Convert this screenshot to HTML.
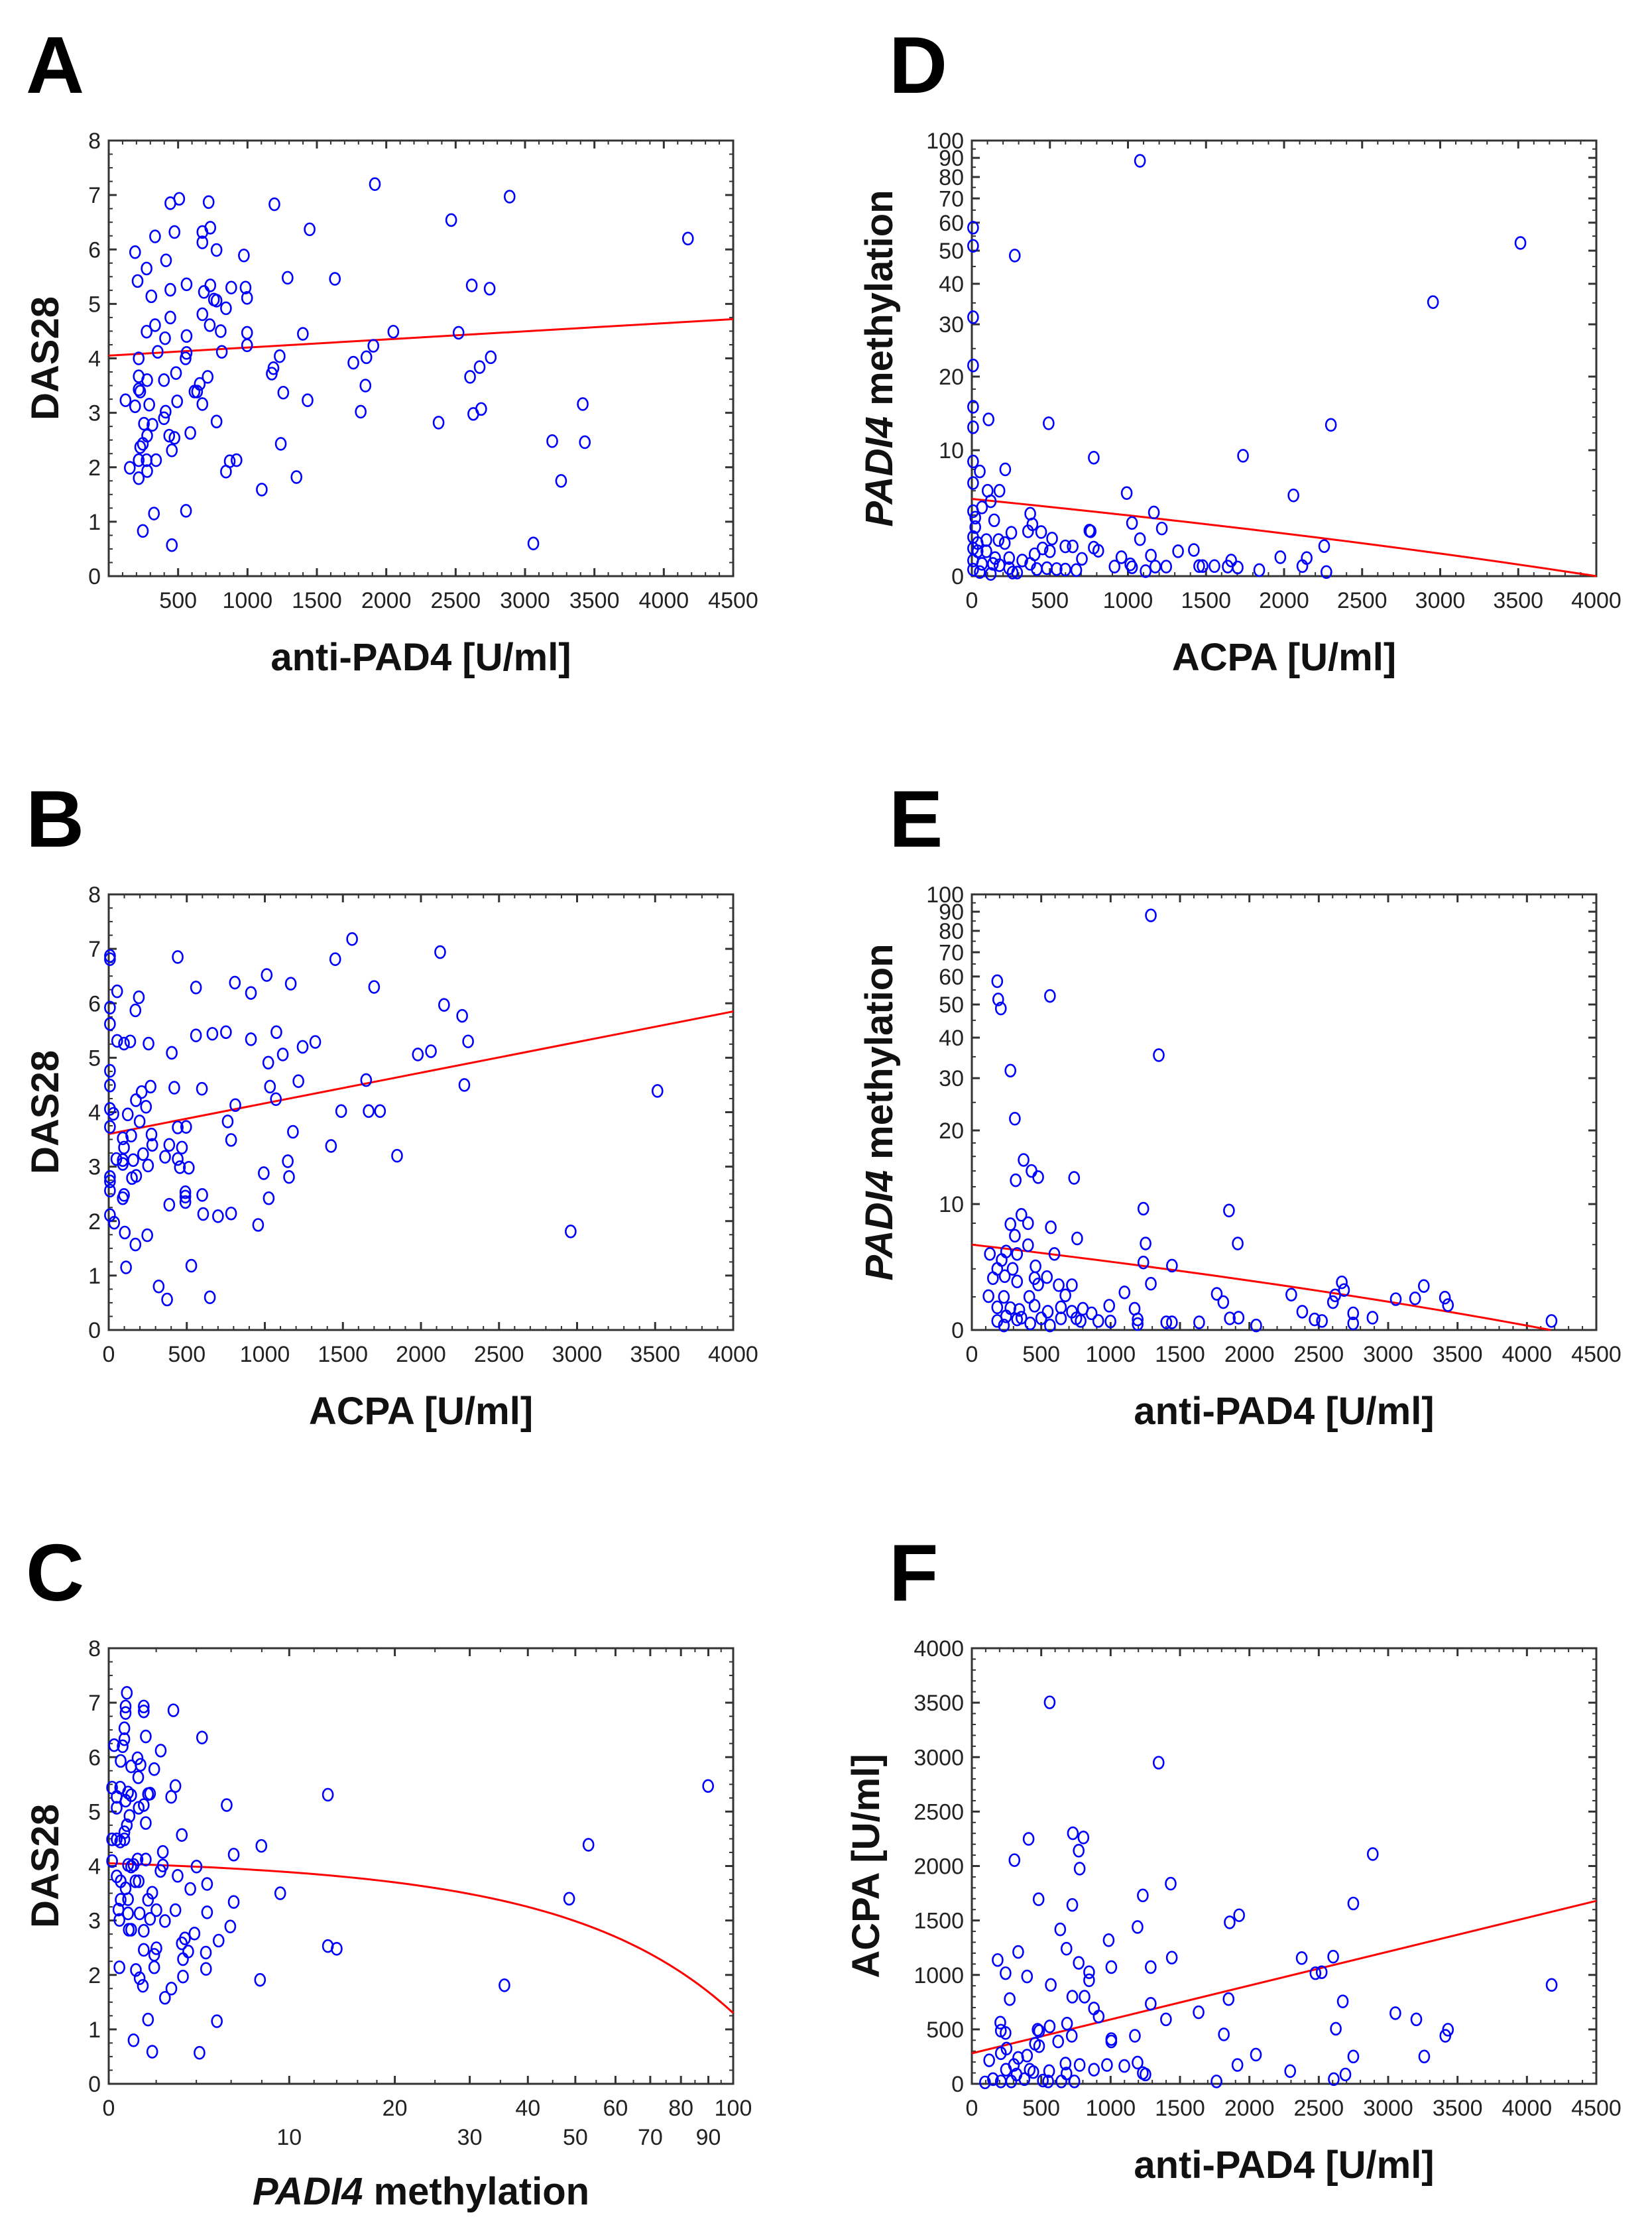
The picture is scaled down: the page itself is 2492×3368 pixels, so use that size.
<!DOCTYPE html>
<html><head><meta charset="utf-8"><style>
html,body{margin:0;padding:0;background:#fff;}
svg{display:block;}
text{font-family:"Liberation Sans",Arial,sans-serif;}
</style></head><body>
<svg id="fig" width="2492" height="3368" viewBox="0 0 2492 3368" xmlns="http://www.w3.org/2000/svg">
<rect x="0" y="0" width="2492" height="3368" fill="#fff"/>
</svg>
<script>
// ---------- Panel A: anti-PAD4 vs DAS28 ----------
const aX=[121,190,208,216,216,216,227,190,152,216,216,227,246,246,254,273,277,277,292,277,273,273,307,315,334,334,341,326,353,398,406,413,410,398,436,444,444,444,455,455,474,474,485,493,508,557,561,561,561,554,588,618,637,656,675,675,675,675,686,713,720,728,732,732,758,777,777,777,807,815,845,845,872,883,921,974,986,997,997,997,1103,1175,1187,1194,1232,1240,1258,1289,1353,1399,1433,1448,1630,1763,1816,1850,1857,1907,1918,2051,2377,2468,2521,2604,2616,2627,2673,2684,2745,2753,2889,3060,3196,3260,3416,3431,4174];
const aY=[3.23,5.95,5.42,4.0,3.67,3.43,3.39,3.12,1.99,2.13,1.8,2.37,2.43,0.83,2.8,2.13,2.58,3.6,3.15,1.93,4.49,5.65,5.14,2.78,4.61,6.24,2.13,1.15,4.12,3.6,4.37,5.8,3.02,2.9,2.58,4.75,6.85,5.26,2.31,0.57,2.54,6.32,3.73,3.21,6.93,1.2,5.36,4.41,4.1,4.0,2.63,3.39,3.39,3.53,3.16,4.81,6.13,6.32,5.22,3.66,6.87,4.61,6.4,5.34,5.08,5.99,2.84,5.06,4.5,4.12,4.92,1.92,2.11,5.3,2.13,5.89,5.3,4.47,4.24,5.11,1.59,3.72,3.82,6.83,4.04,2.43,3.37,5.48,1.82,4.45,3.23,6.37,5.46,3.92,3.02,3.5,4.02,4.23,7.2,4.49,2.82,6.54,4.47,3.66,5.34,2.98,3.84,3.07,5.28,4.02,6.97,0.6,2.48,1.75,3.16,2.46,6.2];
const aFitX=[0,4500];
const aFitY=[4.05,4.72];
const aXTicks=[500,1000,1500,2000,2500,3000,3500,4000,4500];
const aYTicks=[0,1,2,3,4,5,6,7,8];

// ---------- Panel B: ACPA vs DAS28 ----------
const bX=[8,8,442,54,193,171,8,8,559,808,911,1012,1166,1451,1559,1700,2123,2148,2264,2302,54,98,138,255,404,559,664,751,911,1074,1115,1022,1242,1323,1980,2064,8,8,268,420,597,211,174,239,1033,1071,1215,1649,2278,3515,811,1489,1665,1738,8,30,122,198,762,8,442,496,1180,144,274,90,784,279,388,98,469,1424,220,361,1847,49,90,157,442,90,252,456,513,1147,8,8,149,176,993,1155,8,491,491,491,599,98,90,1025,388,8,35,103,605,700,784,957,247,171,2959,111,529,320,374,648];
const bY=[6.87,6.81,6.85,6.22,6.11,5.87,5.92,5.62,6.29,6.38,6.19,6.52,6.36,6.81,7.18,6.3,6.94,5.97,5.77,5.3,5.31,5.26,5.3,5.26,5.09,5.41,5.44,5.47,5.34,5.47,5.06,4.91,5.2,5.29,5.06,5.12,4.76,4.49,4.47,4.45,4.43,4.37,4.22,4.1,4.47,4.24,4.57,4.59,4.5,4.39,4.13,4.02,4.02,4.02,4.06,3.97,3.96,3.83,3.83,3.73,3.72,3.73,3.64,3.57,3.59,3.52,3.49,3.4,3.4,3.35,3.35,3.38,3.23,3.18,3.2,3.14,3.12,3.12,3.14,3.05,3.02,2.99,2.98,3.1,2.81,2.73,2.79,2.83,2.88,2.81,2.56,2.53,2.45,2.35,2.48,2.48,2.42,2.42,2.3,2.11,1.97,1.79,2.13,2.09,2.14,1.93,1.74,1.57,1.81,1.15,1.18,0.8,0.56,0.6];
const bFitX=[0,4000];
const bFitY=[3.6,5.85];
const bXTicks=[0,500,1000,1500,2000,2500,3000,3500,4000];
const bYTicks=[0,1,2,3,4,5,6,7,8];

// ---------- Panel C: PADI4 methylation vs DAS28 ----------
const cX=[0.72,0.67,0.67,1.44,1.44,2.82,0.62,1.53,0.62,0.55,0.21,4.31,2.21,0.47,1.17,0.9,1.3,1.91,1.2,0.13,0.45,0.77,0.9,0.31,1.63,1.72,2.71,2.92,0.67,1.22,1.44,0.31,0.83,1.53,0.72,0.62,5.73,13.2,3.24,0.13,0.31,0.45,0.62,7.97,53.1,89.9,2.31,6.16,0.13,1.17,1.53,1.0,0.77,0.9,2.31,4.01,2.2,0.31,3.03,0.47,1.08,1.22,0.67,4.59,3.68,1.82,9.32,48.6,0.77,1.63,0.47,6.16,0.38,2.01,2.92,4.59,0.77,1.26,1.72,0.42,2.41,5.95,0.9,0.8,1.44,3.9,3.4,5.25,3.24,2.01,1.44,3.57,4.52,1.91,13.2,14.0,3.3,0.42,1.1,1.91,4.53,1.26,3.3,7.88,1.4,2.72,2.41,35.7,1.63,5.15,1.0,1.82,4.17];
const cY=[7.18,6.93,6.81,6.93,6.84,6.86,6.53,6.38,6.33,6.2,6.22,6.36,6.12,5.93,5.98,5.83,5.86,5.78,5.63,5.44,5.44,5.35,5.3,5.27,5.32,5.33,5.27,5.47,5.2,5.07,5.12,5.07,4.92,4.79,4.75,4.62,5.12,5.31,4.57,4.49,4.49,4.45,4.49,4.37,4.39,5.47,4.26,4.21,4.09,4.12,4.12,4.02,4.02,3.99,4.01,3.99,3.91,3.81,3.82,3.72,3.72,3.72,3.59,3.67,3.58,3.51,3.5,3.4,3.39,3.38,3.38,3.34,3.2,3.19,3.19,3.15,3.13,3.13,3.03,3.01,2.99,2.89,2.83,2.83,2.81,2.76,2.67,2.63,2.58,2.49,2.46,2.43,2.41,2.37,2.53,2.48,2.29,2.14,2.09,2.14,2.11,1.94,1.97,1.91,1.8,1.75,1.58,1.81,1.18,1.15,0.8,0.59,0.57];
const cFitCoef=[4.05,-0.015,-0.000125];
const cXTicksTop=[0,20,40,60,80,100];
const cXTicksBottom=[10,30,50,70,90];
const cYTicks=[0,1,2,3,4,5,6,7,8];

// ---------- Panel D: ACPA vs PADI4 methylation ----------
const dX=[1077,3514,2954,275,8,8,8,8,8,107,8,492,2300,781,1737,8,51,214,8,101,177,992,2060,121,65,374,1166,143,388,1026,1217,753,761,360,444,253,514,1077,93,171,211,2257,599,646,781,810,1321,1422,453,500,402,705,958,1147,1976,2145,1661,323,239,37,37,22,22,8,65,135,177,239,374,416,481,543,599,669,914,1015,1026,1113,1175,1245,1456,1478,1554,1639,1703,1841,2117,2271,51,261,121,8,8,8,8,93,149,290];
const dY=[88.4,52.6,35.2,48.4,58.1,51.6,31.6,21.9,15.4,13.7,12.7,13.2,13.0,9.2,9.4,8.8,7.8,8.0,6.7,6.0,6.0,5.8,5.6,5.1,4.6,4.1,4.2,3.6,3.3,3.4,3.0,2.85,2.8,2.8,2.75,2.7,2.3,2.26,2.2,2.2,2.0,1.8,1.78,1.78,1.7,1.5,1.47,1.55,1.65,1.47,1.28,1.0,1.1,1.2,1.1,1.05,0.9,0.9,1.05,1.47,2.0,3.1,3.8,4.3,0.7,0.7,0.62,0.45,0.7,0.4,0.45,0.4,0.37,0.34,0.54,0.67,0.5,0.28,0.54,0.54,0.57,0.57,0.57,0.54,0.49,0.34,0.57,0.23,0.23,0.2,0.12,0.37,0.9,1.65,2.4,1.47,1.05,0.2];
const dFitX=[0,4000];
const dFitY=[5.3,0];
const dXTicks=[0,500,1000,1500,2000,2500,3000,3500,4000];
const dYTicks=[0,10,20,30,40,50,60,70,80,90,100];

// ---------- Panel E: anti-PAD4 vs PADI4 methylation ----------
const eX=[1290,183,190,209,563,1347,278,310,373,430,316,478,737,1236,1853,357,278,405,569,310,759,1252,1916,405,247,326,130,595,215,1236,1442,183,294,459,152,237,326,452,541,478,2666,2682,3257,1290,626,721,120,231,1100,1765,2302,2618,3055,3194,3409,3431,674,414,1812,2602,1173,990,183,278,342,452,547,642,721,800,863,2381,2748,247,357,500,642,753,911,999,1195,1401,1442,1638,1859,1922,2049,2470,2523,2887,2748,4177,183,421,563,1195,231,326,784];
const eY=[88,58.2,51.7,48.7,52.9,35.4,31.7,22.0,15.5,14.0,12.8,13.2,13.1,9.5,9.3,8.85,7.9,8.0,7.6,6.8,6.55,6.1,6.1,5.95,5.4,5.2,5.2,5.2,4.7,4.5,4.25,4.0,4.0,4.2,3.3,3.45,3.06,3.3,3.38,2.85,3.0,2.46,2.74,2.9,2.8,2.8,2.05,2.0,2.3,2.2,2.15,2.1,1.85,1.9,1.95,1.47,2.1,2.0,1.66,1.66,1.24,1.43,1.33,1.28,1.17,1.43,1.06,1.33,1.06,1.24,0.96,1.06,0.96,0.78,0.7,0.66,0.66,0.66,0.51,0.48,0.6,0.43,0.43,0.43,0.66,0.7,0.25,0.6,0.51,0.7,0.37,0.51,0.51,0.37,0.25,0.33,0.25,0.6,0.51];
const eFitX=[0,4170];
const eFitY=[6.0,0];
const eXTicks=[0,500,1000,1500,2000,2500,3000,3500,4000,4500];
const eYTicks=[0,10,20,30,40,50,60,70,80,90,100];

// ---------- Panel F: anti-PAD4 vs ACPA ----------
const fX=[561,1346,409,728,804,770,777,307,2889,1433,1232,481,724,1926,1858,2749,1194,637,986,334,682,186,1441,2377,2604,770,243,398,845,845,1005,1289,2476,2521,569,4178,273,724,812,1850,2673,1289,880,914,1634,3052,3203,1399,205,686,561,474,485,209,243,2623,3431,3412,1816,1175,720,1005,1005,622,455,485,209,398,334,250,125,2047,2749,3260,1914,1194,1232,1251,974,1099,880,777,675,682,557,443,2294,2692,2608,1763,303,246,322,152,209,379,512,645,739,95,417,550,284];
const fY=[3503,2949,2249,2301,2262,2141,1976,2054,2110,1838,1730,1695,1643,1548,1483,1656,1440,1418,1319,1211,1241,1137,1159,1155,1168,1111,1016,986,1025,951,1072,1072,1016,1025,908,908,778,800,800,778,757,735,692,618,657,649,592,592,562,553,527,497,484,488,467,506,497,441,454,441,441,411,389,389,368,346,281,259,238,324,216,268,251,251,173,195,99,86,173,164,130,173,186,95,117,108,117,86,43,22,173,130,86,43,22,43,30,22,22,13,130,22,22];
const fFitX=[0,4500];
const fFitY=[280,1680];
const fXTicks=[0,500,1000,1500,2000,2500,3000,3500,4000,4500];
const fYTicks=[0,500,1000,1500,2000,2500,3000,3500,4000];

// ---------- drawing ----------
const NS='http://www.w3.org/2000/svg';
const svg=document.getElementById('fig');
const W=942,H=657;
function mk(tag,attrs,parent){const e=document.createElementNS(NS,tag);for(const k in attrs)e.setAttribute(k,attrs[k]);(parent||svg).appendChild(e);return e;}
function linX(x0,min,max){return v=>x0+(v-min)/(max-min)*W;}
function linY(y0,min,max){return v=>y0+H-(v-min)/(max-min)*H;}
const L11=Math.log(11);
function tr(v){return Math.log(1+v/10)/L11;}
function logX(x0){return v=>x0+tr(v)*W;}
function logY(y0){return v=>y0+H-tr(v)*H;}

function panel(p){
  const g=mk('g',{});
  
  
  const lt=mk('text',{x:p.x0-125,y:p.y0-72,'font-size':122,'font-weight':'bold',fill:'#000'},g);
  lt.textContent=p.letter;
  
  
  const fr=mk('rect',{x:p.x0,y:p.y0,width:W,height:H,fill:'none',stroke:'#333','stroke-width':3},g);
  
  
  p.xMinor.forEach(v=>{const x=p.sx(v);
    mk('line',{x1:x,y1:p.y0+H,x2:x,y2:p.y0+H-6,stroke:'#333','stroke-width':2},g);
    mk('line',{x1:x,y1:p.y0,x2:x,y2:p.y0+6,stroke:'#333','stroke-width':2},g);});
  p.yMinor.forEach(v=>{const y=p.sy(v);
    mk('line',{x1:p.x0,y1:y,x2:p.x0+6,y2:y,stroke:'#333','stroke-width':2},g);
    mk('line',{x1:p.x0+W,y1:y,x2:p.x0+W-6,y2:y,stroke:'#333','stroke-width':2},g);});
  p.xTicks.forEach((v,i)=>{const x=p.sx(v);
    mk('line',{x1:x,y1:p.y0+H,x2:x,y2:p.y0+H-12,stroke:'#333','stroke-width':3},g);
    mk('line',{x1:x,y1:p.y0,x2:x,y2:p.y0+12,stroke:'#333','stroke-width':3},g);
    const t=mk('text',{x:x,y:p.y0+H+(p.xRow?p.xRow[i]:0)+48,'font-size':34,'text-anchor':'middle',fill:'#222'},g);
    t.textContent=v;
    
    });
  p.yTicks.forEach(v=>{const y=p.sy(v);
    mk('line',{x1:p.x0,y1:y,x2:p.x0+12,y2:y,stroke:'#333','stroke-width':3},g);
    mk('line',{x1:p.x0+W,y1:y,x2:p.x0+W-12,y2:y,stroke:'#333','stroke-width':3},g);
    const t=mk('text',{x:p.x0-12,y:y+12,'font-size':34,'text-anchor':'end',fill:'#222'},g);
    t.textContent=v;
    
    });
  const fl=mk('polyline',{points:p.fit.map(q=>p.sx(q[0])+','+p.sy(q[1])).join(' '),fill:'none',stroke:'#ff0000','stroke-width':3},g);
  
  
  p.xs.forEach((v,i)=>{
    const c=mk('ellipse',{cx:p.sx(v),cy:p.sy(p.ys[i]),rx:7.5,ry:9,fill:'none',stroke:'#0000ff','stroke-width':2.6},g);
    
    });
  const xt=mk('text',{x:p.x0+W/2,y:p.xTitleY,'font-size':58,'font-weight':'bold','text-anchor':'middle',fill:'#111'},g);
  xt.innerHTML=p.xTitle;
  
  
  const cx=p.yTitleX, cy=p.y0+H/2;
  const yt=mk('text',{x:cx,y:cy,'font-size':58,'font-weight':'bold','text-anchor':'middle',fill:'#111',transform:'rotate(-90 '+cx+' '+cy+')'},g);
  yt.innerHTML=p.yTitle;
  
  
}
function range(a,b,s){const r=[];for(let v=a;v<=b+1e-9;v+=s)r.push(+v.toFixed(4));return r;}
function linFit(xs,ys,n){const r=[];for(let i=0;i<=n;i++){const t=i/n;r.push([xs[0]+t*(xs[1]-xs[0]),ys[0]+t*(ys[1]-ys[0])]);}return r;}
const logMinor=[2,4,6,8,12,14,16,18,25,35,45,55,65,75,85,95];
const methT='<tspan font-style="italic">PADI4</tspan> methylation';

const LX=164,RX=1466,R1=212,R2=1349,R3=2486;
panel({key:'a',letter:'A',x0:LX,y0:R1,sx:linX(LX,0,4500),sy:linY(R1,0,8),xs:aX,ys:aY,
  xTicks:aXTicks,yTicks:aYTicks,xMinor:range(0,4500,100),yMinor:range(0,8,0.25),
  fit:linFit(aFitX,aFitY,1),xTitle:'anti-PAD4 [U/ml]',yTitle:'DAS28',xTitleY:R1+H+142,yTitleX:88});
panel({key:'b',letter:'B',x0:LX,y0:R2,sx:linX(LX,0,4000),sy:linY(R2,0,8),xs:bX,ys:bY,
  xTicks:bXTicks,yTicks:bYTicks,xMinor:range(0,4000,100),yMinor:range(0,8,0.25),
  fit:linFit(bFitX,bFitY,1),xTitle:'ACPA [U/ml]',yTitle:'DAS28',xTitleY:R2+H+142,yTitleX:88});
const cTicks=cXTicksTop.concat(cXTicksBottom);
const cRows=cXTicksTop.map(()=>0).concat(cXTicksBottom.map(()=>44));
const cFit=[];for(let i=0;i<=60;i++){const v=i*100/60;cFit.push([v,cFitCoef[0]+cFitCoef[1]*v+cFitCoef[2]*v*v]);}
panel({key:'c',letter:'C',x0:LX,y0:R3,sx:logX(LX),sy:linY(R3,0,8),xs:cX,ys:cY,
  xTicks:cTicks,xRow:cRows,yTicks:cYTicks,xMinor:logMinor,yMinor:range(0,8,0.25),
  fit:cFit,xTitle:methT,yTitle:'DAS28',xTitleY:R3+H+182,yTitleX:88});
panel({key:'d',letter:'D',x0:RX,y0:R1,sx:linX(RX,0,4000),sy:logY(R1),xs:dX,ys:dY,
  xTicks:dXTicks,yTicks:dYTicks,xMinor:range(0,4000,100),yMinor:logMinor,
  fit:linFit(dFitX,dFitY,40),xTitle:'ACPA [U/ml]',yTitle:methT,xTitleY:R1+H+142,yTitleX:1346});
panel({key:'e',letter:'E',x0:RX,y0:R2,sx:linX(RX,0,4500),sy:logY(R2),xs:eX,ys:eY,
  xTicks:eXTicks,yTicks:eYTicks,xMinor:range(0,4500,100),yMinor:logMinor,
  fit:linFit(eFitX,eFitY,40),xTitle:'anti-PAD4 [U/ml]',yTitle:methT,xTitleY:R2+H+142,yTitleX:1346});
panel({key:'f',letter:'F',x0:RX,y0:R3,sx:linX(RX,0,4500),sy:linY(R3,0,4000),xs:fX,ys:fY,
  xTicks:fXTicks,yTicks:fYTicks,xMinor:range(0,4500,100),yMinor:range(0,4000,100),
  fit:linFit(fFitX,fFitY,1),xTitle:'anti-PAD4 [U/ml]',yTitle:'ACPA [U/ml]',xTitleY:R3+H+142,yTitleX:1326});
</script>
</body></html>
